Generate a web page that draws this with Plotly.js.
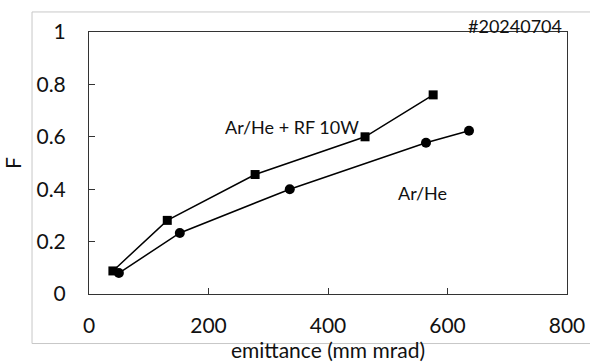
<!DOCTYPE html>
<html>
<head>
<meta charset="utf-8">
<script src="https://cdn.plot.ly/plotly-3.0.1.min.js"></script>
<style>html,body{margin:0;padding:0;background:#fff;}#chart{width:590px;height:364px;}</style>
</head>
<body>
<div id="chart"></div>
<script>
// Ar/He + RF 10W (squares)
const rfX = [40, 131, 278, 462, 576];
const rfY = [0.088, 0.281, 0.456, 0.600, 0.760];
// Ar/He (circles)
const heX = [50, 152, 336, 564, 636];
const heY = [0.080, 0.233, 0.400, 0.577, 0.623];

const xTicks = [0, 200, 400, 600, 800];
const yTicks = [0, 0.2, 0.4, 0.6, 0.8, 1];
const yTickText = ['0', '0.2', '0.4', '0.6', '0.8', '1'];

const FONT = 'Lato, "Open Sans", sans-serif';

const traces = [
  {x: rfX, y: rfY, mode: 'lines+markers', type: 'scatter',
   line: {color: '#000', width: 1.5},
   marker: {symbol: 'square', size: 9, color: '#000'}, showlegend: false, cliponaxis: false},
  {x: heX, y: heY, mode: 'lines+markers', type: 'scatter',
   line: {color: '#000', width: 1.5},
   marker: {symbol: 'circle', size: 10, color: '#000'}, showlegend: false, cliponaxis: false}
];

const layout = {
  width: 590, height: 364,
  margin: {l: 89, r: 23, t: 32, b: 70, pad: 0},
  paper_bgcolor: '#fff', plot_bgcolor: '#fff',
  font: {family: FONT, size: 18, color: '#111'},
  xaxis: {
    range: [0, 800], tickvals: xTicks, ticktext: xTicks.map(String),
    ticks: 'inside', ticklen: 6, tickcolor: '#333', tickwidth: 1,
    showline: true, linecolor: '#333', linewidth: 1, mirror: true,
    showgrid: false, zeroline: false, fixedrange: true,
    ticklabelstandoff: 13,
    tickfont: {family: FONT, size: 21, color: '#111'},
    title: {text: 'emittance (mm mrad)', font: {family: FONT, size: 21, color: '#111'}, standoff: 5}
  },
  yaxis: {
    range: [0, 1], tickvals: yTicks, ticktext: yTickText,
    ticks: 'inside', ticklen: 6, tickcolor: '#333', tickwidth: 1,
    showline: true, linecolor: '#333', linewidth: 1, mirror: true,
    showgrid: false, zeroline: false, fixedrange: true,
    ticklabelstandoff: 18,
    tickfont: {family: FONT, size: 21, color: '#111'},
    title: {text: 'F', font: {family: FONT, size: 21, color: '#111'}, standoff: 12}
  },
  shapes: [
    {type: 'rect', xref: 'paper', yref: 'paper', x0: -0.1192, x1: 1.12, y0: -0.189, y1: 1.0765,
     line: {color: '#c8c8c8', width: 1}, fillcolor: 'rgba(0,0,0,0)', layer: 'below'}
  ],
  annotations: [
    {text: '#20240704', xref: 'paper', yref: 'paper', x: 0.891, y: 1.022, showarrow: false,
     xanchor: 'center', yanchor: 'middle', font: {family: FONT, size: 18, color: '#111'}},
    {text: 'Ar/He + RF 10W', xref: 'x', yref: 'y', x: 339, y: 0.639, showarrow: false,
     xanchor: 'center', yanchor: 'middle', font: {family: FONT, size: 18, color: '#111'}},
    {text: 'Ar/He', xref: 'x', yref: 'y', x: 558, y: 0.386, showarrow: false,
     xanchor: 'center', yanchor: 'middle', font: {family: FONT, size: 18, color: '#111'}}
  ]
};

Plotly.newPlot('chart', traces, layout, {displayModeBar: false, staticPlot: true});
</script>
</body>
</html>
